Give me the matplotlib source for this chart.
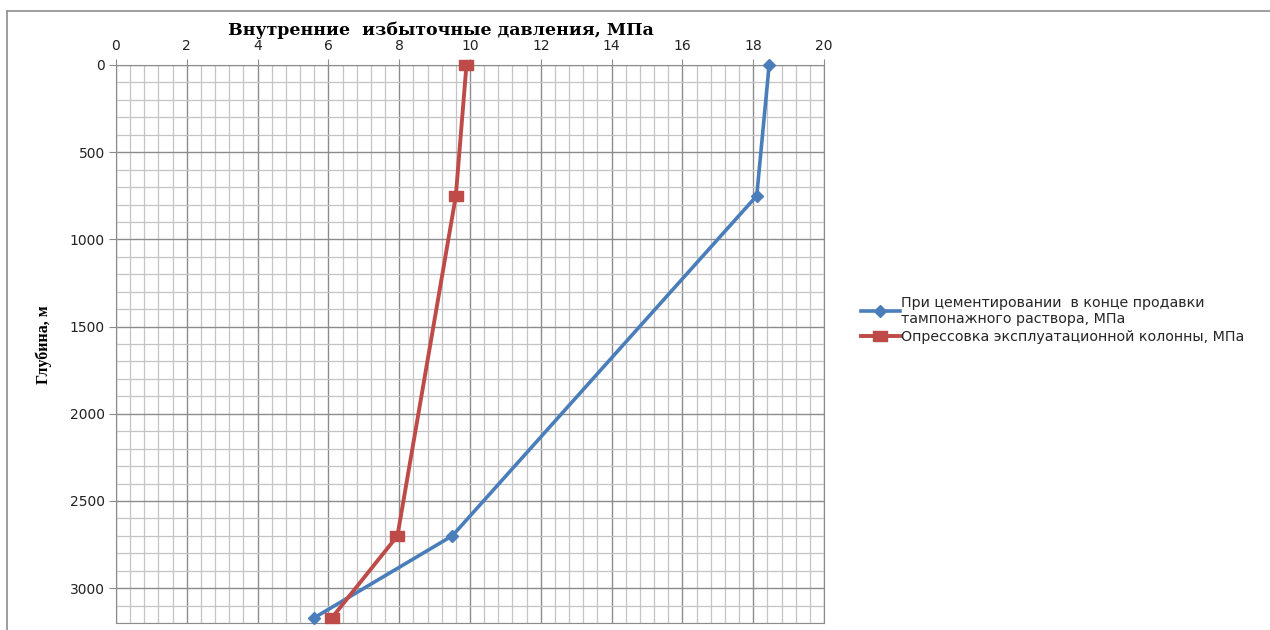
import matplotlib
matplotlib.use("Agg")
import matplotlib.pyplot as plt
from matplotlib.lines import Line2D
from matplotlib.ticker import MultipleLocator

# Depth profiles of internal excess pressure
depth_cement = [0, 750, 2700, 3170]
press_cement = [18.45, 18.1, 9.5, 5.6]

depth_test = [0, 750, 2700, 3170]
press_test = [9.9, 9.6, 7.95, 6.1]

label_cement = "При цементировании  в конце продавки\nтампонажного раствора, МПа"
label_test = "Опрессовка эксплуатационной колонны, МПа"
x_title = "Внутренние  избыточные давления, МПа"
y_title = "Глубина, м"

x_ticks = list(range(0, 21, 2))
y_ticks = list(range(0, 3001, 500))

BLUE = "#4A7EBB"
RED = "#BE4B48"

# slightly wide rectangle used as the square marker
wide_square = [(-1.35, -1), (1.35, -1), (1.35, 1), (-1.35, 1), (-1.35, -1)]

fig = plt.figure(figsize=(12.7, 6.3), dpi=100)
ax = fig.add_axes([116 / 1270, 1 - 623 / 630, 708 / 1270, 558 / 630])

ax.set_xlim(0, 20)
ax.set_ylim(3200, 0)
ax.xaxis.tick_top()
ax.xaxis.set_label_position("top")
ax.set_xticks(x_ticks)
ax.set_yticks(y_ticks)
ax.xaxis.set_minor_locator(MultipleLocator(0.4))
ax.yaxis.set_minor_locator(MultipleLocator(100))

ax.grid(which="minor", color="#c4c4c4", linewidth=0.9)
ax.grid(which="major", color="#8c8c8c", linewidth=1.0)
ax.set_axisbelow(True)
for s in ax.spines.values():
    s.set_color("#8c8c8c")

ax.tick_params(axis="both", which="major", length=5, color="#8c8c8c",
               labelsize=10, labelcolor="#222222", pad=3)
ax.tick_params(axis="x", which="major", length=4, pad=5)
ax.tick_params(axis="both", which="minor", length=0)
for lbl in ax.get_xticklabels() + ax.get_yticklabels():
    lbl.set_family("DejaVu Sans")

ax.plot(press_cement, depth_cement, color=BLUE, linewidth=2.6, marker="D",
        markersize=6, markerfacecolor=BLUE, markeredgecolor=BLUE,
        label=label_cement, clip_on=False, zorder=3)
ax.plot(press_test, depth_test, color=RED, linewidth=2.8, marker=wide_square,
        markersize=10, markerfacecolor=RED, markeredgecolor=RED,
        label=label_test, clip_on=False, zorder=4)

fig.text(441 / 1270, 1 - 30 / 630, x_title, ha="center", va="center",
         fontsize=12.5, fontweight="bold", family="DejaVu Serif")
fig.text(44 / 1270, 1 - 345 / 630, y_title, ha="center", va="center",
         rotation=90, fontsize=11.5, fontweight="bold", family="Liberation Serif")

leg = fig.legend(loc="upper left", bbox_to_anchor=(848 / 1270, 1 - 283 / 630),
                 frameon=False, handlelength=2.7, handletextpad=0.1,
                 labelspacing=0.3,
                 prop={"family": "DejaVu Sans", "size": 10.3})
for t in leg.get_texts():
    t.set_color("#262626")

# Chart area frame
fig.add_artist(Line2D([7 / 1270, 1], [1 - 11 / 630, 1 - 11 / 630],
                      color="#8c8c8c", linewidth=1.2, transform=fig.transFigure))
fig.add_artist(Line2D([7 / 1270, 7 / 1270], [0, 1 - 11 / 630],
                      color="#8c8c8c", linewidth=1.2, transform=fig.transFigure))

fig.savefig("out.png", dpi=100)
